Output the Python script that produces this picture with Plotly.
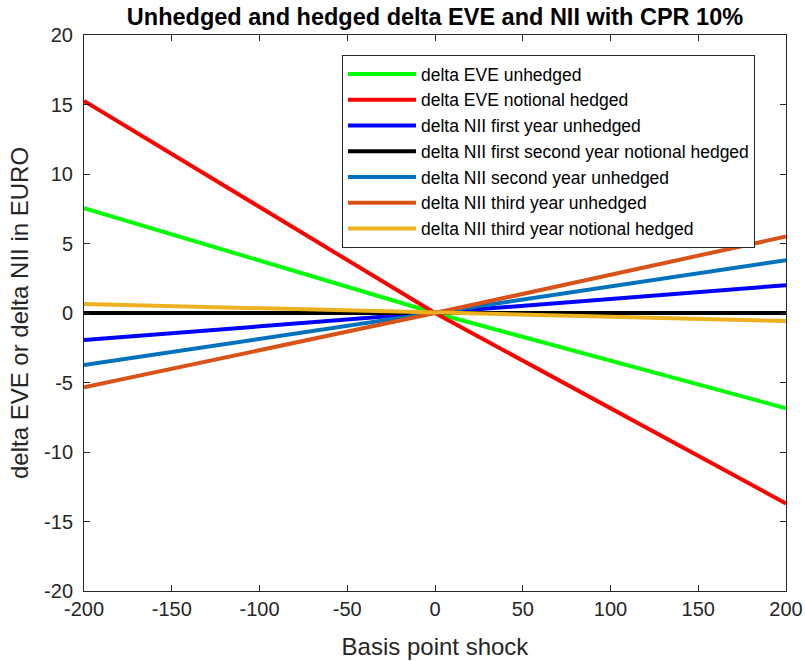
import plotly.graph_objects as go

# basis point shocks
shock_bp = [-200, 0, 200]

# series values (EURO)
eve_unhedged = [7.55, 0.0, -6.85]
eve_notional_hedged = [15.25, 0.0, -13.7]
nii_y1_unhedged = [-1.95, 0.0, 2.0]
nii_y12_notional_hedged = [0.0, 0.0, 0.0]
nii_y2_unhedged = [-3.75, 0.0, 3.8]
nii_y3_unhedged = [-5.35, 0.0, 5.5]
nii_y3_notional_hedged = [0.65, 0.0, -0.58]

# tick labels (MATLAB style hyphen minus)
x_ticks = [-200, -150, -100, -50, 0, 50, 100, 150, 200]
x_tick_labels = ["-200", "-150", "-100", "-50", "0", "50", "100", "150", "200"]
y_ticks = [-20, -15, -10, -5, 0, 5, 10, 15, 20]
y_tick_labels = ["-20", "-15", "-10", "-5", "0", "5", "10", "15", "20"]

series = [
    ("delta EVE unhedged", eve_unhedged, "#00FF00"),
    ("delta EVE notional hedged", eve_notional_hedged, "#FF0000"),
    ("delta NII first year unhedged", nii_y1_unhedged, "#0000FF"),
    ("delta NII first second year notional hedged", nii_y12_notional_hedged, "#000000"),
    ("delta NII second year unhedged", nii_y2_unhedged, "#0072BD"),
    ("delta NII third year unhedged", nii_y3_unhedged, "#D95319"),
    ("delta NII third year notional hedged", nii_y3_notional_hedged, "#EDB120"),
]

fig = go.Figure()
for name, vals, color in series:
    fig.add_trace(
        go.Scatter(x=shock_bp, y=vals, mode="lines", name=name, line=dict(color=color, width=4))
    )

axis_style = dict(
    showline=True,
    linecolor="#262626",
    linewidth=1,
    mirror="allticks",
    ticks="inside",
    ticklen=6,
    tickcolor="#262626",
    showgrid=False,
    zeroline=False,
    automargin=False,
    tickfont=dict(size=20, color="#262626"),
)

fig.update_layout(
    width=805,
    height=661,
    plot_bgcolor="white",
    paper_bgcolor="white",
    font=dict(family="Liberation Sans, Arial, sans-serif", color="#262626"),
    margin=dict(l=84, r=19, t=35, b=70),
    title=dict(
        text="<b>Unhedged and hedged delta EVE and NII with CPR 10%</b>",
        x=0.5,
        xref="paper",
        y=0.974,
        yanchor="middle",
        font=dict(size=23.5, color="#000000"),
    ),
    xaxis=dict(
        range=[-200, 200],
        tickvals=x_ticks,
        ticktext=x_tick_labels,
        title=dict(text="Basis point shock", font=dict(size=24), standoff=19),
        **axis_style,
    ),
    yaxis=dict(
        range=[-20, 20],
        tickvals=y_ticks,
        ticktext=y_tick_labels,
        ticklabelstandoff=6,
        title=dict(text="delta EVE or delta NII in EURO", font=dict(size=24), standoff=8),
        **axis_style,
    ),
    legend=dict(
        x=0.3675,
        y=0.964,
        xanchor="left",
        yanchor="top",
        bgcolor="white",
        bordercolor="#262626",
        borderwidth=1,
        font=dict(size=17.5, color="#000000"),
        itemwidth=68,
        tracegroupgap=0,
    ),
    showlegend=True,
)

# drop the default page margin so the figure fills the window exactly
fig.write_html(
    "out.html",
    config={"displayModeBar": False},
    post_script="document.body.style.margin = '0';",
)
